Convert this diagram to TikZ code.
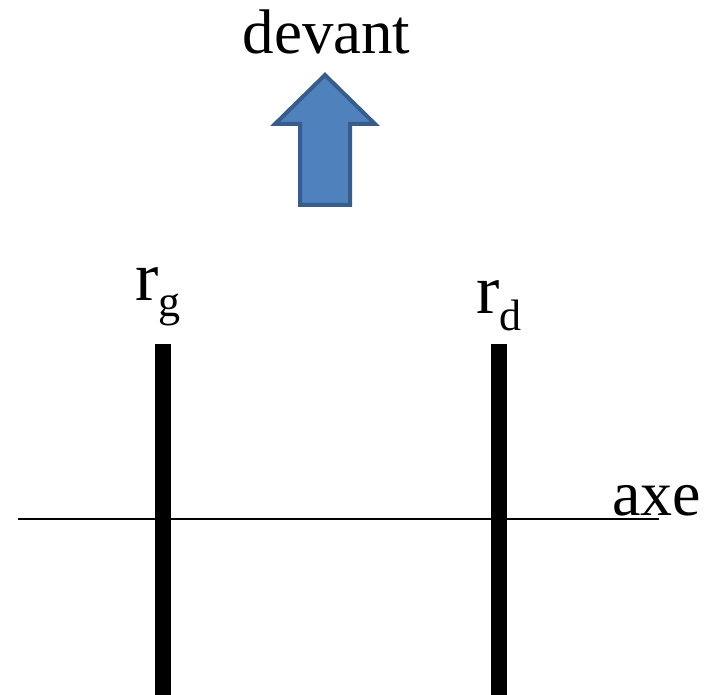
\documentclass[tikz,border=0pt]{standalone}
\usepackage{fontspec}
\setmainfont{Liberation Serif}
\definecolor{arrowfill}{HTML}{4F81BD}
\definecolor{arrowline}{HTML}{385D8A}
\begin{document}
\begin{tikzpicture}[x=1pt,y=-1pt,
  lbl/.style={inner sep=0pt,outer sep=0pt,anchor=base west},
  bar/.style={fill=black,draw=none},
  axisline/.style={line width=1.6pt,black},
  bigarrow/.style={fill=arrowfill,draw=arrowline,line width=4pt,line join=miter}]
\useasboundingbox (0,0) rectangle (715,695);
% text
\node[inner sep=0pt,anchor=base] (devant) at (326.5,54) {\fontsize{63}{70}\selectfont devant};
\node[lbl] (axe) at (612,515) {\fontsize{64}{70}\selectfont axe};
\node[lbl] (rg) at (135,300) {\fontsize{70}{76}\selectfont r\raisebox{-17pt}{\fontsize{44}{50}\selectfont g}};
\node[lbl] (rd) at (476,313) {\fontsize{70}{76}\selectfont r\raisebox{-17pt}{\fontsize{44}{50}\selectfont d}};
% arrow
\draw[bigarrow] (325,75) -- (375,124) -- (350,124) -- (350,205) -- (300,205) -- (300,124) -- (275,124) -- cycle;
% axis
\coordinate (axL) at (18,519);
\coordinate (axR) at (659,519);
\draw[axisline] (axL) -- (axR);
% bars
\fill[bar] (155,344) rectangle (171,695);
\fill[bar] (491,344) rectangle (507,695);
\end{tikzpicture}
\end{document}
